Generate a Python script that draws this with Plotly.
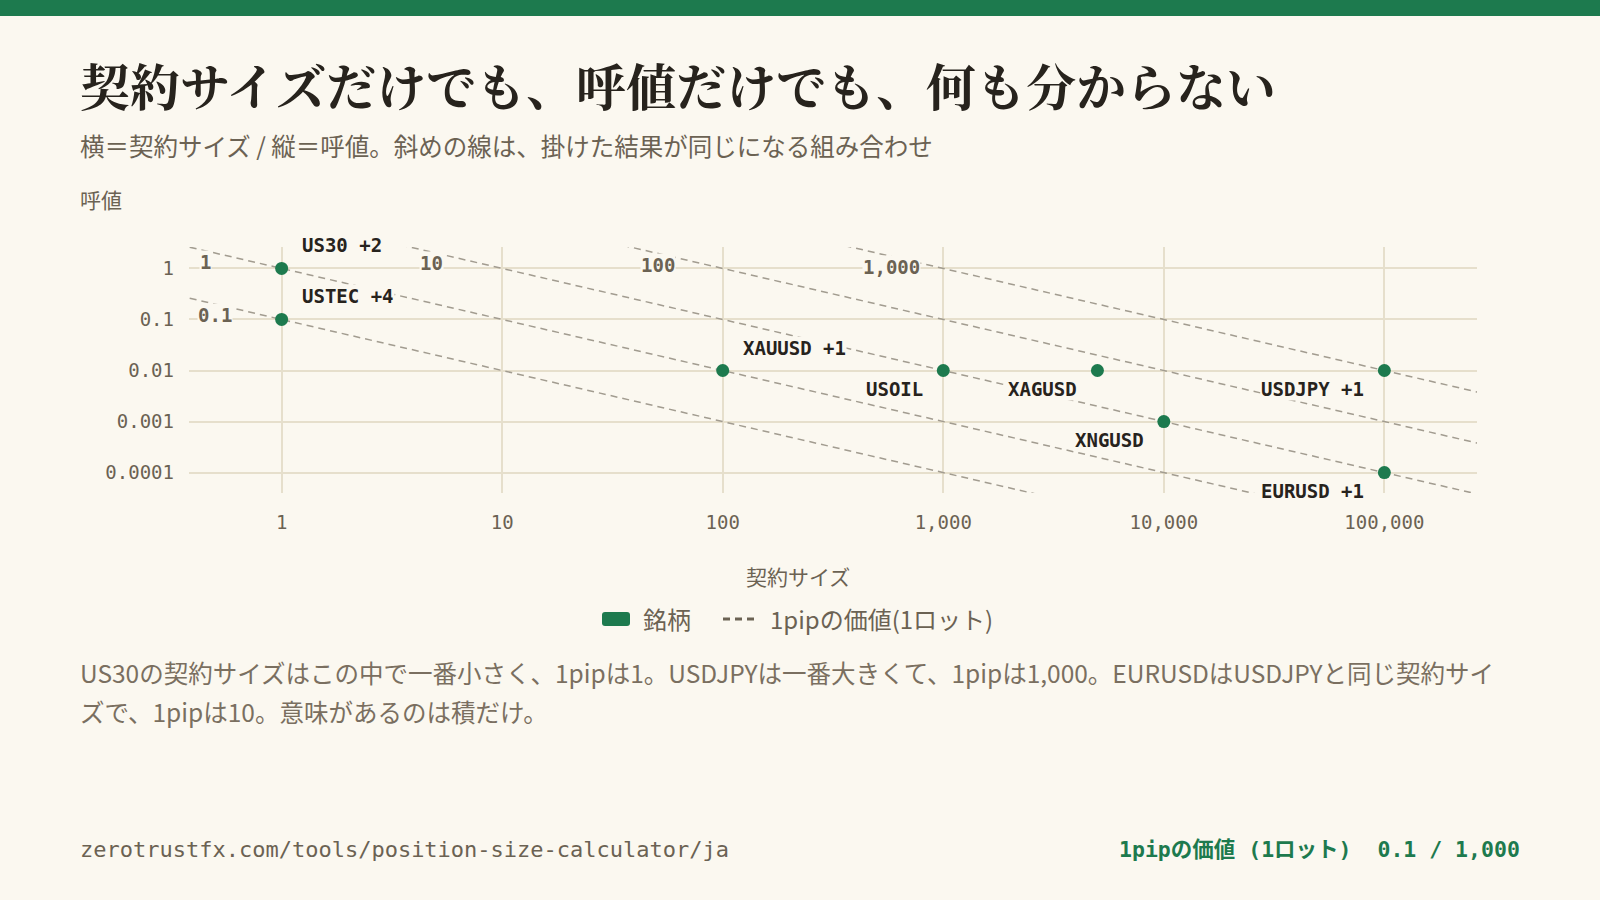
import numpy as np
import plotly.graph_objects as go

# symbols: contract size (x) and tick size (y)
symbols = ["US30", "USTEC", "XAUUSD", "USOIL", "XAGUSD", "XNGUSD", "USDJPY", "EURUSD"]
contract_size = [1, 1, 100, 1000, 5000, 10000, 100000, 100000]
tick_size = [1, 0.1, 0.01, 0.01, 0.01, 0.001, 0.01, 0.0001]
point_labels = ["US30 +2", "USTEC +4", "XAUUSD +1", "USOIL", "XAGUSD", "XNGUSD", "USDJPY +1", "EURUSD +1"]
label_side = ["above", "above", "above", "below", "below", "below", "below", "below"]

# iso lines: contract size x tick size = pip value
pip_values = [0.1, 1, 10, 100, 1000]
pip_labels = ["0.1", "1", "10", "100", "1,000"]
pip_label_x = [0.5, 0.45, 4.8, 51, 580]

x_ticks = [1, 10, 100, 1000, 10000, 100000]
x_ticktext = ["1", "10", "100", "1,000", "10,000", "100,000"]
y_ticks = [1, 0.1, 0.01, 0.001, 0.0001]
y_ticktext = ["1", "0.1", "0.01", "0.001", "0.0001"]
x_line_ext = [0.3, 400000]

BG = "#fbf8f0"
GREEN = "#1d7a4e"
GRID = "#e6dfcc"
MUTED = "#6b6253"
INK = "#27231d"
DASH = "#a29c90"
MONO = "DejaVu Sans Mono, Noto Sans CJK JP"
SANS = "Noto Sans CJK JP, Noto Sans"

W, H = 1600, 900
L, R, T, B = 189, 123, 247, 407
PW, PH = W - L - R, H - T - B


def px(x):
    return (x - L) / PW


def py(y):
    return (H - B - y) / PH


fig = go.Figure()

for p in pip_values:
    xs = np.array(x_line_ext, dtype=float)
    fig.add_trace(go.Scatter(x=xs, y=p / xs, mode="lines",
                             line=dict(color=DASH, width=1.5, dash="7px,5px"),
                             hoverinfo="skip", showlegend=False))

fig.add_trace(go.Scatter(x=contract_size, y=tick_size, mode="markers",
                         marker=dict(color=GREEN, size=13),
                         text=symbols, showlegend=False))

annotations = []
for p, lab, lx in zip(pip_values, pip_labels, pip_label_x):
    annotations.append(dict(x=np.log10(lx), y=np.log10(p / lx), xref="x", yref="y",
                            text=lab, showarrow=False, yshift=-11,
                            font=dict(family=MONO, size=19, color=MUTED, weight="bold"),
                            bgcolor=BG, borderpad=0))

for cx, ty, lab, side in zip(contract_size, tick_size, point_labels, label_side):
    if side == "above":
        a = dict(xanchor="left", xshift=19, yshift=23)
    else:
        a = dict(xanchor="right", xshift=-19, yshift=-18)
    annotations.append(dict(x=np.log10(cx), y=np.log10(ty), xref="x", yref="y",
                            text=lab, showarrow=False, yanchor="middle",
                            font=dict(family=MONO, size=19, color=INK, weight="bold"),
                            bgcolor=BG, borderpad=0, **a))

body1 = "US30の契約サイズはこの中で一番小さく、1pipは1。USDJPYは一番大きくて、1pipは1,000。EURUSDはUSDJPYと同じ契約サイ"
body2 = "ズで、1pipは10。意味があるのは積だけ。"

# titles and texts
annotations += [
    dict(x=px(78), y=py(84), xref="paper", yref="paper", xanchor="left", yanchor="middle",
         text="契約サイズだけでも、呼値だけでも、何も分からない", showarrow=False,
         font=dict(family="Noto Serif CJK JP, Noto Sans CJK JP", size=50, color=INK, weight="bold")),
    dict(x=px(78), y=py(145), xref="paper", yref="paper", xanchor="left", yanchor="middle",
         text="横＝契約サイズ / 縦＝呼値。斜めの線は、掛けた結果が同じになる組み合わせ", showarrow=False,
         font=dict(family=SANS, size=24.5, color=MUTED)),
    dict(x=px(78), y=py(199), xref="paper", yref="paper", xanchor="left", yanchor="middle",
         text="呼値", showarrow=False, font=dict(family=SANS, size=21, color=MUTED)),
    dict(x=px(798), y=py(576), xref="paper", yref="paper", xanchor="center", yanchor="middle",
         text="契約サイズ", showarrow=False, font=dict(family=SANS, size=21, color=MUTED)),
    dict(x=px(641), y=py(618), xref="paper", yref="paper", xanchor="left", yanchor="middle",
         text="銘柄", showarrow=False, font=dict(family=SANS, size=24, color=MUTED)),
    dict(x=px(768), y=py(618), xref="paper", yref="paper", xanchor="left", yanchor="middle",
         text="1pipの価値(1ロット)", showarrow=False, font=dict(family=SANS, size=24, color=MUTED)),
    dict(x=px(78), y=py(672), xref="paper", yref="paper", xanchor="left", yanchor="middle",
         text=body1, showarrow=False, font=dict(family=SANS, size=24.5, color="#7a6f60")),
    dict(x=px(78), y=py(711), xref="paper", yref="paper", xanchor="left", yanchor="middle",
         text=body2, showarrow=False, font=dict(family=SANS, size=24.5, color="#7a6f60")),
    dict(x=px(78), y=py(849), xref="paper", yref="paper", xanchor="left", yanchor="middle",
         text="zerotrustfx.com/tools/position-size-calculator/ja", showarrow=False,
         font=dict(family=MONO, size=22, color=MUTED)),
    dict(x=px(1522), y=py(849), xref="paper", yref="paper", xanchor="right", yanchor="middle",
         text="1pipの価値 (1ロット)  0.1 / 1,000", showarrow=False,
         font=dict(family=MONO, size=21.5, color=GREEN, weight="bold")),
]

# legend swatch (rounded rect) and dashed sample
x0, x1, y0, y1, r = 602, 630, 612, 626, 3
path = (f"M {px(x0 + r)} {py(y0)} L {px(x1 - r)} {py(y0)} Q {px(x1)} {py(y0)} {px(x1)} {py(y0 + r)} "
        f"L {px(x1)} {py(y1 - r)} Q {px(x1)} {py(y1)} {px(x1 - r)} {py(y1)} "
        f"L {px(x0 + r)} {py(y1)} Q {px(x0)} {py(y1)} {px(x0)} {py(y1 - r)} "
        f"L {px(x0)} {py(y0 + r)} Q {px(x0)} {py(y0)} {px(x0 + r)} {py(y0)} Z")
shapes = [
    dict(type="rect", xref="paper", yref="paper", x0=px(0), x1=px(W), y0=py(0), y1=py(16),
         fillcolor=GREEN, line=dict(width=0), layer="above"),
    dict(type="path", xref="paper", yref="paper", path=path, fillcolor=GREEN, line=dict(width=0)),
    dict(type="line", xref="paper", yref="paper", x0=px(723), x1=px(759), y0=py(619), y1=py(619),
         line=dict(color=MUTED, width=3, dash="7px,5px")),
]

fig.update_layout(
    width=W, height=H,
    margin=dict(l=L, r=R, t=T, b=B),
    paper_bgcolor=BG, plot_bgcolor=BG,
    showlegend=False,
    annotations=annotations,
    shapes=shapes,
    xaxis=dict(type="log", range=[-0.42, 5.42], tickvals=x_ticks, ticktext=x_ticktext,
               showgrid=True, gridcolor=GRID, gridwidth=1.5, zeroline=False, showline=False,
               ticks="", ticklabelstandoff=16,
               tickfont=dict(family=MONO, size=19, color=MUTED)),
    yaxis=dict(type="log", range=[-4.4, 0.42], tickvals=y_ticks, ticktext=y_ticktext,
               showgrid=True, gridcolor=GRID, gridwidth=1.5, zeroline=False, showline=False,
               ticks="", ticklabelstandoff=14,
               tickfont=dict(family=MONO, size=19, color=MUTED)),
)

fig.write_html("out.html", config={"displayModeBar": False},
               post_script="document.body.style.margin='0';")
